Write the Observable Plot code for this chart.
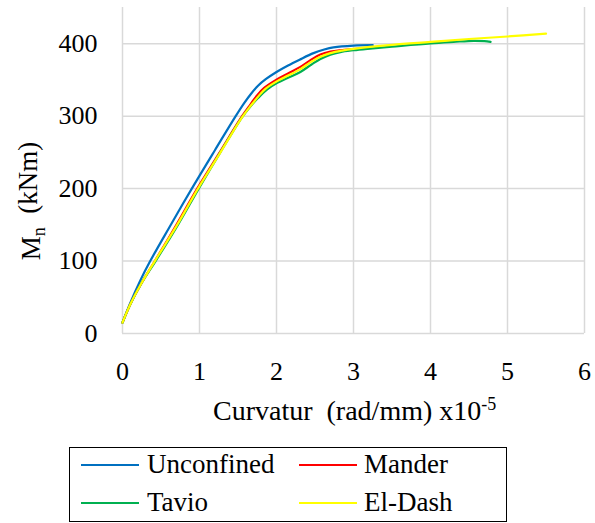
<!DOCTYPE html>
<html>
<head>
<meta charset="utf-8">
<script src="https://cdn.jsdelivr.net/npm/d3@7"></script>
<script src="https://cdn.jsdelivr.net/npm/@observablehq/plot@0.6"></script>
<style>
  body { margin: 0; background: #fff; }
  #wrap { position: relative; width: 595px; height: 523px; font-family: 'Liberation Serif', Tinos, 'Times New Roman', 'DejaVu Serif', serif; }
  #legend { position: absolute; left: 69px; top: 447px; width: 436px; height: 73px; border: 1.5px solid #000; box-sizing: content-box; }
  .li { position: absolute; font-size: 27px; line-height: 28px; color: #000; white-space: nowrap; font-family: 'Liberation Serif', Tinos, 'Times New Roman', 'DejaVu Serif', serif; }
  .sw { position: absolute; height: 2px; width: 58px; }
  svg text { font-family: 'Liberation Serif', Tinos, 'Times New Roman', 'DejaVu Serif', serif; }
</style>
</head>
<body>
<div id="wrap"></div>
<script>
// ---- data ----
const series = ["Unconfined", "Mander", "Tavio", "El-Dash"];
const colors = ["#0070C0", "#FF0000", "#00B050", "#FFFF00"];

const unconfinedX = [0, 0.1, 0.23, 0.36, 0.6, 0.9, 1.2, 1.47, 1.58, 1.67, 1.76, 1.86, 2.0, 2.15, 2.3, 2.48, 2.62, 2.74, 3.0, 3.25];
const unconfinedM = [15, 42, 73, 100, 145, 200, 253, 300, 318, 331, 342, 351, 361, 370, 378, 387, 392, 395, 397.5, 398];

const manderX = [0, 0.1, 0.25, 0.42, 0.7, 0.97, 1.25, 1.54, 1.66, 1.75, 1.84, 2.01, 2.15, 2.31, 2.45, 2.57, 2.7, 2.83, 3.0, 3.2];
const manderM = [15, 40, 70, 100, 150, 200, 248, 298, 316, 329, 339, 351, 359, 368, 378, 385, 389, 391, 392.5, 394];

const tavioX = [0, 0.1, 0.25, 0.43, 0.72, 0.99, 1.27, 1.55, 1.65, 1.76, 1.88, 2.01, 2.15, 2.31, 2.45, 2.57, 2.7, 2.83, 3.0, 3.18, 3.5, 4.0, 4.3, 4.56, 4.7, 4.78];
const tavioM = [15, 40, 70, 100, 150, 200, 250, 298, 312, 325, 337, 346, 353, 361, 371, 379, 385, 388.5, 391, 393, 396, 400.5, 402.5, 404, 403.5, 402.5];

const elDashX = [0, 0.1, 0.25, 0.42, 0.71, 0.98, 1.26, 1.55, 1.67, 1.77, 1.86, 2.02, 2.15, 2.31, 2.45, 2.57, 2.7, 2.85, 3.0, 3.5, 4.0, 4.5, 5.0, 5.5];
const elDashM = [15, 40, 70, 100, 150, 200, 248, 298, 315, 328, 338, 349, 356, 365, 375, 382, 387, 390.5, 393, 398.5, 402.5, 406.5, 410, 414];

const xTicks = [0, 1, 2, 3, 4, 5, 6];
const yTicks = [0, 100, 200, 300, 400];

// ---- build ----
const FONT = "'Liberation Serif', Tinos, 'Times New Roman', 'DejaVu Serif', serif";
const sets = [
  [unconfinedX, unconfinedM],
  [manderX, manderM],
  [tavioX, tavioM],
  [elDashX, elDashM]
];
const rows = sets.map(([xs, ms], i) => xs.map((c, j) => ({s: series[i], c, m: ms[j]})));

const grid = {stroke: "#d9d9d9", strokeOpacity: 1, strokeWidth: 1.5};

const chart = Plot.plot({
  width: 595,
  height: 440,
  marginLeft: 122,
  marginRight: 11,
  marginTop: 7,
  marginBottom: 107,
  x: {domain: [0, 6]},
  y: {domain: [0, 450]},
  color: {domain: series, range: colors},
  style: {fontFamily: FONT, fontSize: "26px", color: "#000", background: "#fff"},
  marks: [
    Plot.gridX(xTicks, grid),
    Plot.gridY(yTicks, grid),
    ...rows.map(r => Plot.line(r, {x: "c", y: "m", stroke: "s", strokeWidth: 2.2, curve: "catmull-rom"})),
    Plot.axisX(xTicks, {tickSize: 0, tickPadding: 28, label: null, fontSize: 26, tickFormat: d => String(d)}),
    Plot.axisY(yTicks, {tickSize: 0, tickPadding: 25, label: null, fontSize: 26, tickFormat: d => String(d)})
  ]
});

const svg = d3.select(chart);
// x axis label
const xl = svg.append("text")
  .attr("x", 213).attr("y", 420)
  .attr("text-anchor", "start")
  .attr("font-size", 28)
  .attr("fill", "#000")
  .style("white-space", "pre");
xl.append("tspan").text("Curvatur  (rad/mm) x10");
xl.append("tspan").attr("dy", "-0.55em").attr("font-size", 18).text("-5");

// y axis label
const yl = svg.append("text")
  .attr("transform", "translate(40,201) rotate(-90)")
  .attr("text-anchor", "middle")
  .attr("font-size", 27)
  .attr("fill", "#000")
  .style("white-space", "pre");
yl.append("tspan").text("M");
yl.append("tspan").attr("dy", "0.3em").attr("font-size", 18).text("n");
yl.append("tspan").attr("dy", "-0.3em").text("  (kNm)");

const wrap = document.getElementById("wrap");
wrap.appendChild(chart);

// legend
const legend = document.createElement("div");
legend.id = "legend";
const pos = [
  {sx: 11, tx: 77, y: 17},
  {sx: 229, tx: 294, y: 17},
  {sx: 11, tx: 77, y: 55},
  {sx: 229, tx: 294, y: 55}
];
series.forEach((s, i) => {
  const p = pos[i];
  const sw = document.createElement("div");
  sw.className = "sw";
  sw.style.left = p.sx + "px";
  sw.style.top = (p.y - 1) + "px";
  sw.style.background = colors[i];
  legend.appendChild(sw);
  const t = document.createElement("div");
  t.className = "li";
  t.style.left = p.tx + "px";
  t.style.top = (p.y - 15) + "px";
  t.textContent = s;
  legend.appendChild(t);
});
wrap.appendChild(legend);
chart.style.position = "absolute";
chart.style.left = "0";
chart.style.top = "0";
</script>
</body>
</html>
